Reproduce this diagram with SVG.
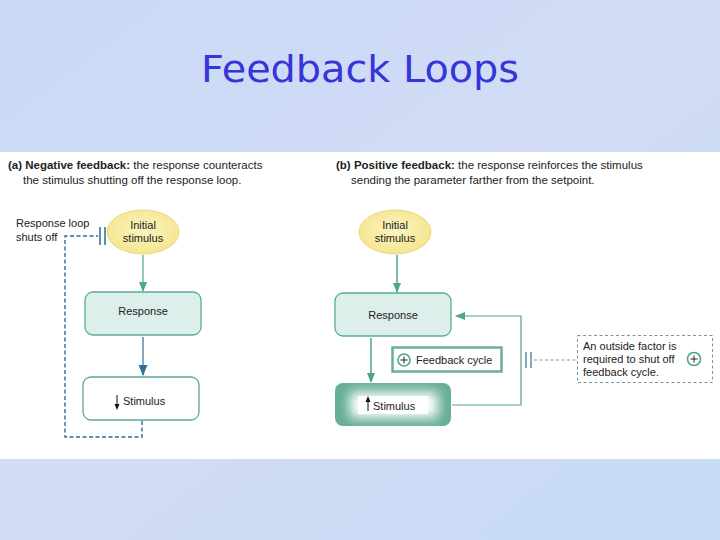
<svg xmlns="http://www.w3.org/2000/svg" width="720" height="540" viewBox="0 0 720 540">
<defs>
<style>
.t{font-family:"Liberation Sans",Arial,sans-serif;font-size:11px;fill:#222}
.h{font-size:11.5px}
.b{font-weight:bold}
.title{font-family:"Comic Sans MS","DejaVu Sans",sans-serif;font-size:38px;fill:#3535d8}
.ell{fill:url(#yel);stroke:#e8d880;stroke-width:1}
.resp{fill:#dcefeb;stroke:#5aaa9a;stroke-width:1.3}
.gl{stroke:#4fa585;stroke-width:1.5;fill:none}
.gl2{stroke:#4fa585;stroke-width:1.2;fill:none}
.bl{stroke:#2e6fa0;stroke-width:1.2;fill:none}
.dash{stroke:#2f6a94;stroke-width:1.4;fill:none;stroke-dasharray:4,2.5}
.dash2{stroke:#6f9ab0;stroke-width:1;fill:none;stroke-dasharray:3,2.5}
</style>
<linearGradient id="bg" x1="0" y1="0" x2="1" y2="1">
<stop offset="0" stop-color="#c9d9f6"/>
<stop offset="0.5" stop-color="#d2dcf6"/>
<stop offset="1" stop-color="#c6daf4"/>
</linearGradient>
<radialGradient id="yel" cx="0.5" cy="0.45" r="0.6">
<stop offset="0" stop-color="#fbf5c0"/>
<stop offset="1" stop-color="#f3e48c"/>
</radialGradient>
<filter id="blur" x="-40%" y="-80%" width="180%" height="260%">
<feGaussianBlur stdDeviation="6"/>
</filter>
<clipPath id="stimclip">
<rect x="335" y="383" width="116" height="43" rx="8"/>
</clipPath>
<marker id="ag" viewBox="0 0 10 10" refX="9" refY="5" markerWidth="10" markerHeight="10" markerUnits="userSpaceOnUse" orient="auto">
<path d="M0,1 L10,5 L0,9 Z" fill="#4fa585"/>
</marker>
<marker id="ab" viewBox="0 0 10 10" refX="9" refY="5" markerWidth="11" markerHeight="11" markerUnits="userSpaceOnUse" orient="auto">
<path d="M0,1 L10,5 L0,9 Z" fill="#2e6fa0"/>
</marker>
</defs>
<rect x="0" y="0" width="720" height="540" fill="url(#bg)"/>
<text class="title" x="360" y="82" text-anchor="middle" textLength="318" lengthAdjust="spacingAndGlyphs">Feedback Loops</text>
<rect x="0" y="152" width="720" height="307" fill="#ffffff"/>

<g id="header-a">
<text class="t h" x="8" y="169"><tspan class="b">(a) Negative feedback:</tspan> the response counteracts</text>
<text class="t h" x="23" y="184">the stimulus shutting off the response loop.</text>
</g>
<g id="header-b">
<text class="t h" x="336" y="169"><tspan class="b">(b) Positive feedback:</tspan> the response reinforces the stimulus</text>
<text class="t h" x="351" y="184">sending the parameter farther from the setpoint.</text>
</g>

<g id="connectors">
<line class="gl2" x1="143" y1="255" x2="143" y2="291" marker-end="url(#ag)"/>
<line class="bl" x1="143" y1="337" x2="143" y2="375" marker-end="url(#ab)"/>
<path class="dash" d="M142,421 V437 H65 V236 H98"/>
<line x1="100" y1="227" x2="100" y2="245" stroke="#2f6a94" stroke-width="1.5"/>
<line x1="105" y1="227" x2="105" y2="245" stroke="#2f6a94" stroke-width="1.5"/>
<line class="gl" x1="397" y1="255" x2="397" y2="292" marker-end="url(#ag)"/>
<line class="gl" x1="371" y1="338" x2="371" y2="382" marker-end="url(#ag)"/>
<path class="gl2" d="M452,405 H521 V316 H456" marker-end="url(#ag)"/>
<line x1="526" y1="352" x2="526" y2="368" stroke="#2f6a94" stroke-width="1.2"/>
<line x1="531" y1="352" x2="531" y2="368" stroke="#2f6a94" stroke-width="1.2"/>
<line class="dash2" x1="534" y1="360" x2="577" y2="360"/>
</g>

<g id="a-initial">
<ellipse class="ell" cx="143" cy="232" rx="36" ry="22"/>
<text class="t" x="143" y="229" text-anchor="middle">Initial</text>
<text class="t" x="143" y="242" text-anchor="middle">stimulus</text>
</g>
<g id="a-response">
<rect class="resp" x="85" y="292" width="116" height="43" rx="8"/>
<text class="t" x="143" y="315" text-anchor="middle">Response</text>
</g>
<g id="a-stimulus">
<rect x="83" y="377" width="116" height="43" rx="8" fill="#fff" stroke="#5aaa9a" stroke-width="1.3"/>
<line x1="117" y1="395" x2="117" y2="406" stroke="#111" stroke-width="1"/>
<path d="M114.5,404 L117,410 L119.5,404 Z" fill="#111"/>
<text class="t" x="123" y="405">Stimulus</text>
</g>
<g id="a-label">
<text class="t" x="16" y="227">Response loop</text>
<text class="t" x="16" y="241">shuts off</text>
</g>

<g id="b-initial">
<ellipse class="ell" cx="395" cy="232" rx="36" ry="22"/>
<text class="t" x="395" y="229" text-anchor="middle">Initial</text>
<text class="t" x="395" y="242" text-anchor="middle">stimulus</text>
</g>
<g id="b-response">
<rect class="resp" x="335" y="293" width="116" height="43" rx="8"/>
<text class="t" x="393" y="319" text-anchor="middle">Response</text>
</g>
<g id="b-stimulus">
<rect x="335" y="383" width="116" height="43" rx="8" fill="#66ae93"/>
<g clip-path="url(#stimclip)">
<rect x="350" y="392" width="88" height="26" fill="#fff" filter="url(#blur)"/>
<rect x="358" y="396" width="70" height="18" fill="#fff"/>
</g>
<line x1="368" y1="400" x2="368" y2="411" stroke="#111" stroke-width="1"/>
<path d="M365.5,402 L368,396 L370.5,402 Z" fill="#111"/>
<text class="t" x="373" y="410">Stimulus</text>
</g>
<g id="b-cycle">
<rect x="392.5" y="347.5" width="109" height="24" fill="#fff" stroke="#6ab095" stroke-width="2.5"/>
<circle cx="404" cy="360" r="6" fill="#fff" stroke="#4fa585" stroke-width="1.6"/>
<path d="M400.5,360 H407.5 M404,356.5 V363.5" stroke="#222" stroke-width="1"/>
<text class="t" x="416" y="364">Feedback cycle</text>
</g>
<g id="b-outside">
<rect class="dash2" x="577.5" y="335.5" width="135" height="47"/>
<text class="t" x="583" y="350">An outside factor is</text>
<text class="t" x="583" y="363">required to shut off</text>
<text class="t" x="583" y="376">feedback cycle.</text>
<circle cx="694" cy="359" r="6.5" fill="#fff" stroke="#4fa585" stroke-width="1.6"/>
<path d="M690.5,359 H697.5 M694,355.5 V362.5" stroke="#222" stroke-width="1"/>
</g>
</svg>
